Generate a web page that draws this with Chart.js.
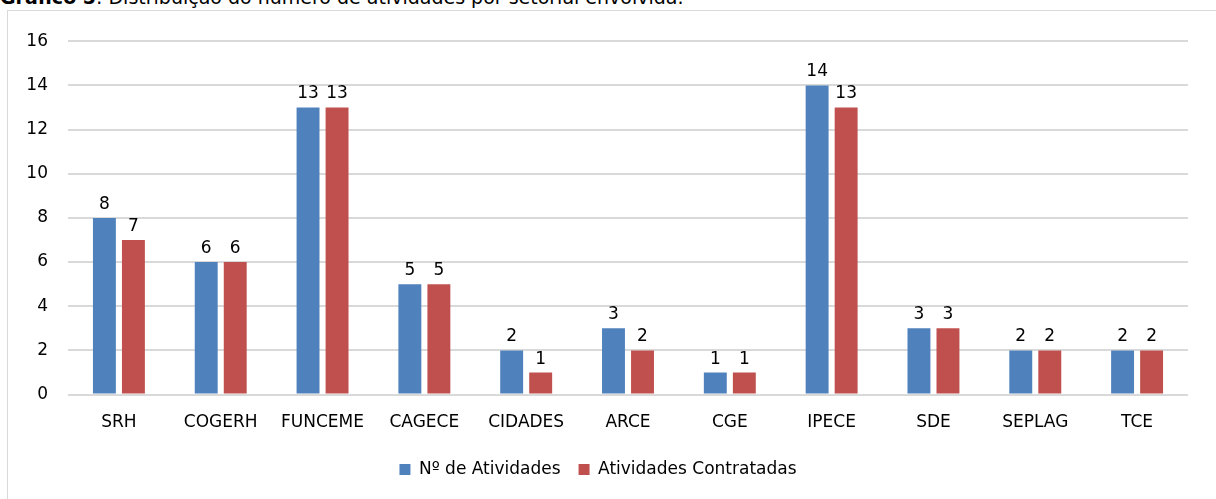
<!DOCTYPE html>
<html>
<head>
<meta charset="utf-8">
<script src="https://cdn.jsdelivr.net/npm/chart.js@4/dist/chart.umd.min.js"></script>
<style>
  body { margin: 0; background: #fff; overflow: hidden; }
  #caption {
    position: absolute; left: 0; top: -14px;
    font-family: "DejaVu Sans", sans-serif; font-size: 19px; color: #000; white-space: nowrap;
  }
  #box {
    position: absolute; left: 7px; top: 10px; width: 1209px; height: 489px;
    border-left: 1px solid #d9d9d9; border-top: 1px solid #d9d9d9; background: #fff;
  }
</style>
</head>
<body>
<div id="caption"><b>Gráfico 5</b>: Distribuição do número de atividades por setorial envolvida.</div>
<div id="box"><canvas id="barChart" width="1208" height="488"></canvas></div>
<script>
// Colors (Office palette)
const officeColors = {
  blue: "#4f81bd",
  red: "#c0504d",
  grid: "#d9d9d9",
  text: "#000000",
};

const setoriais = ["SRH", "COGERH", "FUNCEME", "CAGECE", "CIDADES", "ARCE", "CGE", "IPECE", "SDE", "SEPLAG", "TCE"];
const numAtividades = [8, 6, 13, 5, 2, 3, 1, 14, 3, 2, 2];
const atividadesContratadas = [7, 6, 13, 5, 1, 2, 1, 13, 3, 2, 2];
const yTicks = [0, 2, 4, 6, 8, 10, 12, 14, 16];

const fontFamily = "'DejaVu Sans', sans-serif";

// value labels above each bar
const valueLabels = {
  id: "valueLabels",
  afterDatasetsDraw(chart) {
    const ctx = chart.ctx;
    ctx.save();
    ctx.font = "17px " + fontFamily;
    ctx.fillStyle = officeColors.text;
    ctx.textAlign = "center";
    ctx.textBaseline = "alphabetic";
    chart.data.datasets.forEach((ds, i) => {
      chart.getDatasetMeta(i).data.forEach((bar, j) => {
        ctx.fillText(ds.data[j], bar.x, bar.y - 9);
      });
    });
    ctx.restore();
  },
};

new Chart(document.getElementById("barChart").getContext("2d"), {
  type: "bar",
  data: {
    labels: setoriais,
    datasets: [
      {
        label: "Nº de Atividades",
        data: numAtividades,
        backgroundColor: officeColors.blue,
      },
      {
        label: "Atividades Contratadas",
        data: atividadesContratadas,
        backgroundColor: officeColors.red,
      },
    ],
  },
  options: {
    responsive: false,
    animation: false,
    layout: { padding: { left: 0, right: 28, top: 23, bottom: 11 } },
    plugins: {
      legend: {
        display: true,
        position: "bottom",
        labels: {
          color: officeColors.text,
          font: { family: fontFamily, size: 17 },
          boxWidth: 11,
          boxHeight: 11,
          padding: 18,
        },
      },
      tooltip: { enabled: false },
    },
    datasets: {
      bar: { categoryPercentage: 0.57, barPercentage: 0.79 },
    },
    scales: {
      x: {
        grid: { display: false },
        border: { display: false },
        ticks: { color: officeColors.text, font: { family: fontFamily, size: 17 }, padding: 10, maxRotation: 0, autoSkip: false },
      },
      y: {
        min: 0,
        max: 16,
        afterFit: (s) => { s.width = 60; },
        afterBuildTicks: (s) => { s.ticks = yTicks.map((v) => ({ value: v })); },
        grid: { color: officeColors.grid, lineWidth: 2, drawTicks: false },
        border: { display: false },
        ticks: { color: officeColors.text, font: { family: fontFamily, size: 17 }, padding: 20 },
      },
    },
  },
  plugins: [valueLabels],
});
</script>
</body>
</html>
